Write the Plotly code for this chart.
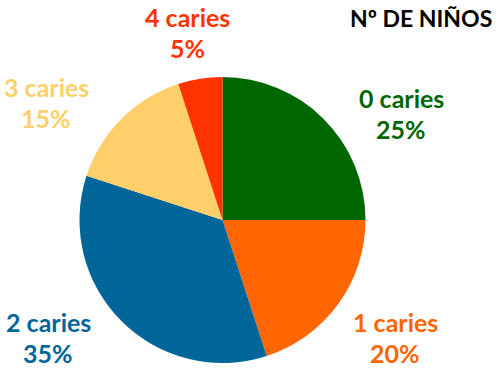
import plotly.graph_objects as go

categories = ["0 caries", "1 caries", "2 caries", "3 caries", "4 caries"]
values = [25, 20, 35, 15, 5]
colors = ["#006600", "#FF6600", "#006699", "#FFD06A", "#FF3300"]
title_text = "Nº DE NIÑOS"

# label anchor positions (window pixels, top-left origin) for the two label lines
label_pos = [(401, 98), (395, 322), (48, 322), (46, 87), (187, 17)]
line_gap = 31

W, H = 500, 369
cx, cy, r = 222.5, 220, 143


def px(x):
    return x / W


def py(y):
    return 1 - y / H


fig = go.Figure(go.Pie(
    labels=categories, values=values, sort=False, direction="clockwise",
    rotation=0, marker=dict(colors=colors, line=dict(width=0)),
    textinfo="none", hoverinfo="label+percent", showlegend=False,
    domain=dict(x=[px(cx - r), px(cx + r)],
                y=[max(0, py(cy + r)), min(1, py(cy - r))]),
))

font_family = "Lato"
fsize = 25
anns = []
total = sum(values)
for cat, v, col, (x, y) in zip(categories, values, colors, label_pos):
    pct = f"{round(100 * v / total)}%"
    for txt, yy in ((cat, y), (pct, y + line_gap)):
        anns.append(dict(x=px(x), y=py(yy), xref="paper", yref="paper",
                         text=f"<b>{txt}</b>", showarrow=False,
                         xanchor="center", yanchor="middle",
                         font=dict(family=font_family, size=fsize, color=col)))
anns.append(dict(x=px(421), y=py(18), xref="paper", yref="paper",
                 text=f"<b>{title_text}</b>", showarrow=False,
                 xanchor="center", yanchor="middle",
                 font=dict(family=font_family, size=23, color="#000000")))

fig.update_layout(width=W, height=H, margin=dict(l=0, r=0, t=0, b=0),
                  paper_bgcolor="white", plot_bgcolor="white", annotations=anns)
fig.write_html("out.html", config={"displayModeBar": False},
               post_script="document.body.style.margin='0px';")
